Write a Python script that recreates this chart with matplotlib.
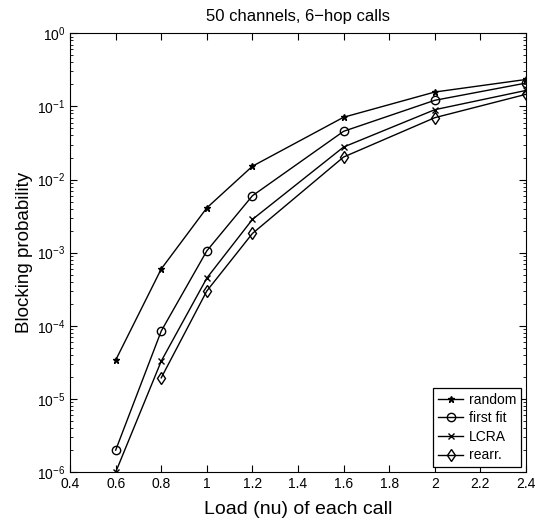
import numpy as np
import matplotlib
matplotlib.use('Agg')
import matplotlib.pyplot as plt
from matplotlib.ticker import LogLocator, NullFormatter

plt.rcParams['font.family'] = ['Liberation Sans', 'DejaVu Sans']

load = [0.6, 0.8, 1.0, 1.2, 1.6, 2.0, 2.4]
p_random = [3.4e-5, 6.0e-4, 4.1e-3, 1.52e-2, 0.071, 0.157, 0.233]
p_firstfit = [2.0e-6, 8.5e-5, 1.06e-3, 6.0e-3, 0.0456, 0.121, 0.208]
p_lcra = [1.0e-6, 3.3e-5, 4.5e-4, 2.85e-3, 0.0278, 0.090, 0.165]
p_rearr = [np.nan, 1.95e-5, 3.0e-4, 1.83e-3, 0.0203, 0.070, 0.146]

fig = plt.figure(figsize=(5.35, 5.27), dpi=100)
ax = fig.add_axes([0.131, 0.104, 0.852, 0.833])

kw = dict(color='k', lw=1.0, mfc='none', mec='k')
ax.semilogy(load, p_random, marker='*', ms=5, mfc='k', color='k', lw=1.0, label='random')
ax.semilogy(load, p_firstfit, marker='o', ms=6, label='first fit', **kw)
ax.semilogy(load, p_lcra, marker='x', ms=5, label='LCRA', **kw)
ax.semilogy(load, p_rearr, marker='d', ms=6, label='rearr.', **kw)

ax.set_xlim(0.4, 2.4)
ax.set_ylim(1e-6, 1e0)
ax.set_xticks(np.arange(0.4, 2.41, 0.2))
ax.set_xticklabels(['0.4', '0.6', '0.8', '1', '1.2', '1.4', '1.6', '1.8', '2', '2.2', '2.4'])
ax.yaxis.set_major_locator(LogLocator(base=10, numticks=10))
ax.yaxis.set_minor_locator(LogLocator(base=10, subs=np.arange(2, 10), numticks=20))
ax.yaxis.set_minor_formatter(NullFormatter())
ax.tick_params(which='both', direction='in', top=True, right=True, labelsize=10)
ax.tick_params(which='major', length=5)
ax.tick_params(which='minor', length=2.5)

ax.set_xlabel('Load (nu) of each call', fontsize=14, labelpad=7)
ax.set_ylabel('Blocking probability', fontsize=13.5, labelpad=3)
ax.set_title('50 channels, 6\u2212hop calls', fontsize=12, pad=9)

leg = ax.legend(loc='lower right', fontsize=10, fancybox=False, edgecolor='k',
                framealpha=1, handlelength=1.8, borderaxespad=0.35,
                labelspacing=0.33, handletextpad=0.4, borderpad=0.35)
leg.get_frame().set_linewidth(0.9)

fig.savefig('out.png', dpi=100)
